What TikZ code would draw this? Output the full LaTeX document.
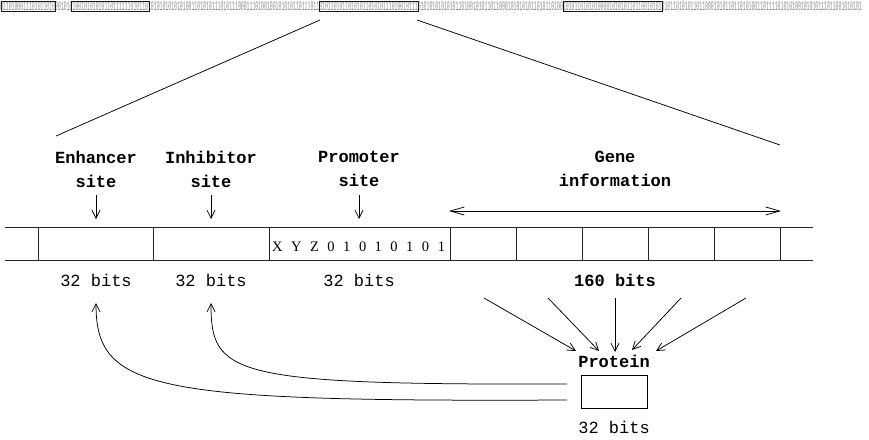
\documentclass[tikz,border=0pt]{standalone}
\usepackage{fontspec}
\setmainfont{Liberation Serif}
\setmonofont{Liberation Mono}
\usetikzlibrary{arrows.meta}

\tikzset{
  sitelabel/.style={font=\ttfamily\bfseries\fontsize{17}{24}\selectfont, align=center, inner sep=0pt},
  bitcount/.style={font=\ttfamily\fontsize{17}{20}\selectfont, inner sep=0pt},
  boldcount/.style={font=\ttfamily\bfseries\fontsize{17}{20}\selectfont, inner sep=0pt},
  tapeline/.style={line width=0.9pt, black!85},
  thinline/.style={line width=0.75pt, black},
  barb/.style={thinline, -{Straight Barb[length=8pt,width=8pt]}},
  longbarb/.style={thinline, {Straight Barb[length=14pt,width=8pt]}-{Straight Barb[length=14pt,width=8pt]}},
  stripbox/.style={line width=0.9pt, black!90},
  chromo/.style={font=\ttfamily\fontsize{13}{13}\selectfont, text=black!45, inner sep=0pt, anchor=west, xscale=0.372},
}

\begin{document}
\begin{tikzpicture}[x=1pt, y=-1pt]
  \useasboundingbox (0,0) rectangle (869,439);

  % chromosome strip with marked genes
  \node[chromo] (chrom) at (0,6.5)
    {011010001110101101000101010010101010110111111010110101010101010100110101011101011100011101001001010101101110110101101011010101101010111010010111010101010101011010010101101100010101010110101101001010110101010000101010110110010101010110101011011000101011011010100110111101010100101010111011001010101};
  \draw[stripbox] (1,1.5) rectangle (55,11);
  \draw[stripbox] (71,1.5) rectangle (149,11);
  \draw[stripbox] (319,1.5) rectangle (418,11);
  \draw[stripbox] (563,1.5) rectangle (662,11);

  % zoom lines from the selected gene to the enlarged view
  \coordinate (zl) at (320,20);
  \coordinate (zr) at (417,20);
  \coordinate (el) at (56,136);
  \coordinate (er) at (780,145);
  \draw[thinline] (zl) -- (el);
  \draw[thinline] (zr) -- (er);

  % site labels
  \node[sitelabel] (enh) at (96,169) {Enhancer\\site};
  \node[sitelabel] (inh) at (211,169) {Inhibitor\\site};
  \node[sitelabel] (pro) at (359,169) {Promoter\\site};
  \node[sitelabel] (gene) at (615,169) {Gene\\information};

  \foreach \n/\x in {enh/96, inh/211, pro/359} {
    \coordinate (\n top) at (\x,195);
    \coordinate (\n tip) at (\x,219);
    \draw[barb] (\n top) -- (\n tip);
  }
  \coordinate (gl) at (449,211);
  \coordinate (gr) at (781,211);
  \draw[longbarb] (gl) -- (gr);

  % genome tape
  \draw[tapeline] (5,227) -- (813,227);
  \draw[tapeline] (5,260) -- (813,260);
  \foreach \x in {38,153,269,450,516,582,648,714,780}
    \draw[tapeline] (\x,227) -- (\x,260);
  \node[inner sep=0pt, anchor=west, font=\fontsize{14.5}{14.5}\selectfont] (prom) at (272,246.5)
    {\spaceskip=8.5pt\xspaceskip=8.5pt X Y Z 0 1 0 1 0 1 0 1};

  % sizes
  \node[bitcount] (enhbits) at (96,280) {32 bits};
  \node[bitcount] (inhbits) at (211,280) {32 bits};
  \node[bitcount] (probits) at (359,280) {32 bits};
  \node[boldcount] (genebits) at (615,280) {160 bits};

  % protein
  \node[boldcount] (protein) at (614,361) {Protein};
  \node[draw, thinline, minimum width=66pt, minimum height=33pt, inner sep=0pt] (protbox) at (614,391.5) {};
  \node[bitcount] (protbits) at (614,427) {32 bits};

  \foreach \i/\sx/\tx/\ty in {1/484/576/351, 2/548/599/351, 3/615/615/352, 4/681/632/350, 5/746/656/351} {
    \coordinate (gs\i) at (\sx,298);
    \coordinate (gt\i) at (\tx,\ty);
    \draw[barb] (gs\i) -- (gt\i);
  }

  % feedback from the protein to the regulatory sites
  \coordinate (fbup) at (567,384);
  \coordinate (fblow) at (567,400);
  \coordinate (inhtip) at (211,303);
  \coordinate (enhtip) at (96,303);
  \draw[barb] (fbup) .. controls (230,385) and (211,375) .. (inhtip);
  \draw[barb] (fblow) .. controls (150,402) and (96,390) .. (enhtip);
\end{tikzpicture}
\end{document}
